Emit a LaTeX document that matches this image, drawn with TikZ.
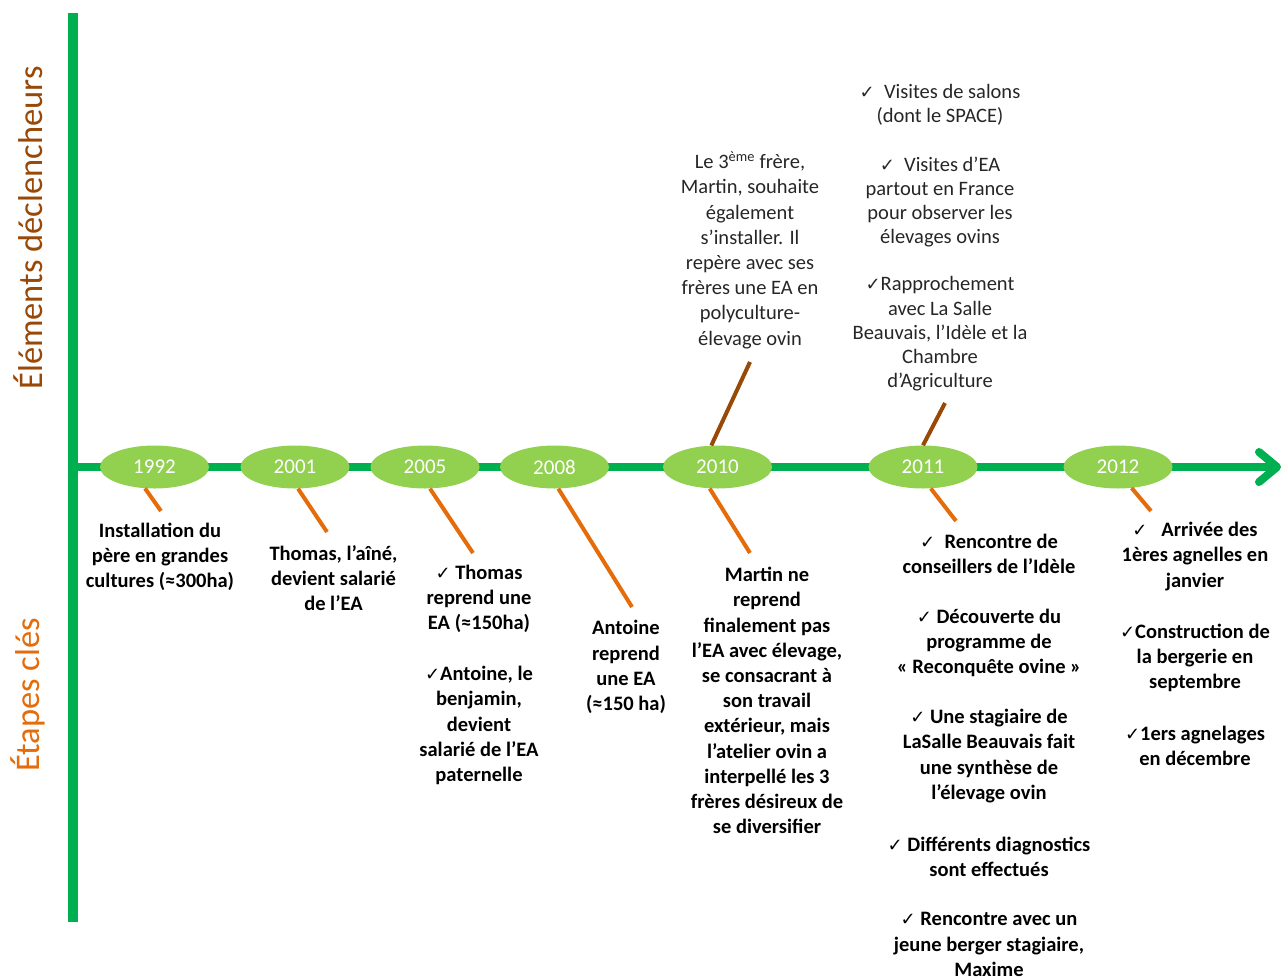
\documentclass[tikz,border=0pt]{standalone}
\usepackage{fontspec}
\setmainfont{Carlito}
\newfontfamily\dejavu{DejaVu Sans}
\usetikzlibrary{shapes.geometric,arrows.meta}
\definecolor{axgreen}{HTML}{00B050}
\definecolor{yrgreen}{HTML}{92D050}
\definecolor{orangeline}{HTML}{E46C0A}
\definecolor{brownline}{HTML}{984807}
\definecolor{uptext}{HTML}{262626}
\newcommand{\ck}{{\dejavu\fontsize{18}{18}\selectfont ✓}}
\begin{document}
\begin{tikzpicture}[x=1pt,y=-1pt,
 axisline/.style={draw=axgreen,line width=8pt},
 yearnode/.style={ellipse,fill=yrgreen,minimum width=109pt,minimum height=43pt,inner sep=0pt,text=white,font=\fontsize{21}{24}\selectfont},
 lowtxt/.style={align=center,inner sep=0pt,text=black,font=\bfseries\fontsize{20.5}{25.2}\selectfont},
 uptxt/.style={align=center,inner sep=0pt,text=uptext,font=\fontsize{20.5}{25.2}\selectfont},
 uptxtb/.style={align=center,inner sep=0pt,text=uptext,font=\fontsize{20.5}{24.3}\selectfont},
 stepline/.style={draw=orangeline,line width=4pt},
 trigline/.style={draw=brownline,line width=4pt},
 sidelabel/.style={rotate=90,inner sep=0pt,font=\fontsize{34.5}{40}\selectfont}]
\useasboundingbox (0,0) rectangle (1285,978);

% axes
\coordinate (vtop) at (73,13);
\coordinate (vbot) at (73,922);
\draw[draw=axgreen,line width=10pt] (vtop) -- (vbot);
\coordinate (axL) at (78,467);
\coordinate (axR) at (1281,467);
\draw[axisline,-{Straight Barb[length=18pt,width=30pt,round]}] (axL) -- (axR);

% side labels
\node[sidelabel,text=brownline] (lbltrig) at (28,228) {Éléments déclencheurs};
\node[sidelabel,text=orangeline] (lblstep) at (28,695) {Étapes clés};

% years
\node[yearnode] (y1992) at (154.5,467) {1992};
\node[yearnode] (y2001) at (295,467) {2001};
\node[yearnode] (y2005) at (425,467) {2005};
\node[yearnode] (y2008) at (554.5,467) {2008};
\node[yearnode] (y2010) at (717.5,467) {2010};
\node[yearnode] (y2011) at (923,467) {2011};
\node[yearnode] (y2012) at (1118,467) {2012};

% line ends
\coordinate (e1992) at (161,511);
\coordinate (e2001) at (327,532);
\coordinate (e2005) at (473,553);
\coordinate (e2008) at (632,607);
\coordinate (e2010) at (750,553);
\coordinate (e2011) at (956,521);
\coordinate (e2012) at (1151,511);
\coordinate (u2010e) at (750,362);
\coordinate (u2011e) at (945,403);

\draw[stepline] (y1992.-114) -- (e1992);
\draw[stepline] (y2001.-82) -- (e2001);
\draw[stepline] (y2005.-77) -- (e2005);
\draw[stepline] (y2008.-80) -- (e2008);
\draw[stepline] (y2010.-110) -- (e2010);
\draw[stepline] (y2011.-70) -- (e2011);
\draw[stepline] (y2012.-57.5) -- (e2012);
\draw[trigline] (y2010.106) -- (u2010e);
\draw[trigline] (y2011.90) -- (u2011e);

% lower texts
\node[lowtxt] (t1992) at (160,557) {Installation du\\père en grandes\\cultures (≈300ha)};
\node[lowtxt] (t2001) at (333.5,578) {Thomas, l’aîné,\\devient salarié\\de l’EA};
\node[lowtxt] (t2005a) at (479,599) {\ck{} Thomas\\reprend une\\EA (≈150ha)};
\node[lowtxt] (t2005b) at (479,725.5) {\ck Antoine, le\\benjamin,\\devient\\salarié de l’EA\\paternelle};
\node[lowtxt] (t2008) at (626,667) {Antoine\\reprend\\une EA\\(≈150 ha)};
\node[lowtxt] (t2010) at (767,700.5) {Martin ne\\reprend\\finalement pas\\l’EA avec élevage,\\se consacrant à\\son travail\\extérieur, mais\\l’atelier ovin a\\interpellé les 3\\frères désireux de\\se diversifier};
\node[lowtxt] (t2011a) at (989,554) {\ck{}\ \ Rencontre de\\conseillers de l’Idèle};
\node[lowtxt] (t2011b) at (989,643) {\ck{} Découverte du\\programme de\\« Reconquête ovine »};
\node[lowtxt] (t2011c) at (989,756) {\ck{} Une stagiaire de\\LaSalle Beauvais fait\\une synthèse de\\l’élevage ovin};
\node[lowtxt] (t2011d) at (989,856.5) {\ck{} Différents diagnostics\\sont effectués};
\node[lowtxt] (t2011e) at (989,944.5) {\ck{} Rencontre avec un\\jeune berger stagiaire,\\Maxime};
\node[lowtxt] (t2012a) at (1195,556.5) {\ck{}\ \ \ Arrivée des\\1ères agnelles en\\janvier};
\node[lowtxt] (t2012b) at (1195,658) {\ck Construction de\\la bergerie en\\septembre};
\node[lowtxt] (t2012c) at (1195,746) {\ck 1ers agnelages\\en décembre};

% upper texts
\node[uptxt] (u2010) at (750,250) {Le 3\textsuperscript{ème} frère,\\Martin, souhaite\\également\\s’installer. Il\\repère avec ses\\frères une EA en\\polyculture-\\élevage ovin};
\node[uptxtb] (u2011a) at (940,105) {\ck{}\ \ Visites de salons\\(dont le SPACE)};
\node[uptxtb] (u2011b) at (940,202) {\ck{}\ \ Visites d’EA\\partout en France\\pour observer les\\élevages ovins};
\node[uptxtb] (u2011c) at (940,334) {\ck Rapprochement\\avec La Salle\\Beauvais, l’Idèle et la\\Chambre\\d’Agriculture};
\end{tikzpicture}
\end{document}
